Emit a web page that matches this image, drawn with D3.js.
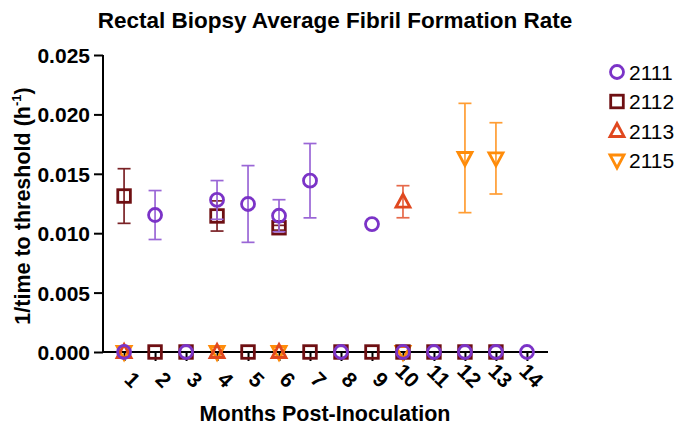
<!DOCTYPE html>
<html><head><meta charset="utf-8">
<script src="https://cdn.jsdelivr.net/npm/d3@7"></script>
<style>body{margin:0;background:#fff}svg{display:block}text{font-family:"Liberation Sans",Arial,sans-serif}</style>
</head><body><svg id="c" width="683" height="430"></svg>
<script>
const months = [1,2,3,4,5,6,7,8,9,10,11,12,13,14];
const yTicks = [0, 0.005, 0.010, 0.015, 0.020, 0.025];
const seriesNames = ["2111","2112","2113","2115"];
// means (null = no point)
const mean2111 = [0, 0.01153, 0, 0.0128, 0.01246, 0.01147, 0.01442, 0, 0.01077, 0, 0, 0, 0, 0];
const sd2111   = [0, 0.00206, 0, 0.00163, 0.00323, 0.00135, 0.00313, 0, 0, 0, 0, 0, 0, 0];
const mean2112 = [0.01313, 0, 0, 0.01145, 0, 0.01046, 0, 0, 0, 0, 0, 0, 0, null];
const sd2112   = [0.0023, 0, 0, 0.00127, 0, 0.0002, 0, 0, 0, 0, 0, 0, 0, null];
const mean2113 = [0, null, null, 0, null, 0, null, null, null, 0.01265, null, null, null, null];
const sd2113   = [0, null, null, 0, null, 0, null, null, null, 0.00135, null, null, null, null];
const mean2115 = [0, null, null, 0, null, 0, null, null, null, 0, null, 0.01633, 0.0163, null];
const sd2115   = [0, null, null, 0, null, 0, null, null, null, 0, null, 0.0046, 0.003, null];

const svg = d3.select("#c");
const x = d3.scalePoint().domain(months).range([103, 548]).padding(0.68);
const y = d3.scaleLinear().domain([0, 0.025]).range([352, 55]);

const series = [
  {name:"2111", mean:mean2111, sd:sd2111, color:"#7b33c7", err:"#9a66d6", sym:"circle"},
  {name:"2112", mean:mean2112, sd:sd2112, color:"#6e0f12", err:"#7a2226", sym:"square"},
  {name:"2113", mean:mean2113, sd:sd2113, color:"#e0481f", err:"#e6694a", sym:"tri"},
  {name:"2115", mean:mean2115, sd:sd2115, color:"#ff8c0a", err:"#ff9d33", sym:"tridown"}
];

function drawSym(g, sym, color, cx, cy){
  if(sym==="circle"){
    g.append("circle").attr("cx",cx).attr("cy",cy).attr("r",6.5).attr("fill","none").attr("stroke",color).attr("stroke-width",2.8);
  } else if(sym==="square"){
    g.append("rect").attr("x",cx-6.3).attr("y",cy-6.3).attr("width",12.6).attr("height",12.6).attr("fill","none").attr("stroke",color).attr("stroke-width",2.8);
  } else if(sym==="tri"){
    g.append("path").attr("d",`M${cx},${cy-7.5} L${cx+7},${cy+5.5} L${cx-7},${cy+5.5} Z`).attr("fill","none").attr("stroke",color).attr("stroke-width",2.8).attr("stroke-linejoin","miter");
  } else {
    g.append("path").attr("d",`M${cx},${cy+7.5} L${cx+7},${cy-5.5} L${cx-7},${cy-5.5} Z`).attr("fill","none").attr("stroke",color).attr("stroke-width",2.8).attr("stroke-linejoin","miter");
  }
}

// title
svg.append("text").attr("x",335).attr("y",28).attr("text-anchor","middle")
  .attr("font-size",22.5).attr("font-weight","bold").text("Rectal Biopsy Average Fibril Formation Rate");

// y axis
const yAxis = d3.axisLeft(y).tickValues(yTicks).tickFormat(d3.format(".3f")).tickSize(9).tickSizeOuter(0);
const gy = svg.append("g").attr("transform","translate(103,0)").call(yAxis);
gy.select(".domain").attr("stroke","#000").attr("stroke-width",2).attr("d","M0,55V352");
gy.selectAll(".tick line").attr("stroke","#000").attr("stroke-width",2);
gy.selectAll(".tick text").attr("font-size",21).attr("font-weight","bold").attr("fill","#000").attr("x",-13).attr("dy","0.36em");

// x axis
const xAxis = d3.axisBottom(x).tickSize(9).tickSizeOuter(0);
const gx = svg.append("g").attr("transform","translate(0,352)").call(xAxis);
gx.select(".domain").attr("stroke","#000").attr("stroke-width",2).attr("d","M103,0H548");
gx.selectAll(".tick line").attr("stroke","#000").attr("stroke-width",2);
gx.selectAll(".tick text").attr("font-size",21).attr("font-weight","bold").attr("fill","#000")
  .attr("text-anchor","end").attr("y",0).attr("dy",0)
  .attr("transform","translate(7,37) rotate(45)");

// axis titles
svg.append("text").attr("x",325).attr("y",421).attr("text-anchor","middle").attr("font-size",21.5).attr("font-weight","bold").text("Months Post-Inoculation");
const yt = svg.append("text").attr("transform","translate(30,206) rotate(-90)").attr("text-anchor","middle").attr("font-size",21.5).attr("font-weight","bold");
yt.append("tspan").text("1/time to threshold (h");
yt.append("tspan").attr("font-size",13).attr("dy",-9).text("-1");
yt.append("tspan").attr("dy",9).text(")");

// data: error bars then markers
const plot = svg.append("g");
const order = [3,2,1,0];
order.forEach(si=>{
  const s = series[si];
  s.mean.forEach((m,i)=>{
    if(m===null) return;
    const cx = x(months[i]);
    const sd = s.sd[i]||0;
    if(sd>0){
      const g = plot.append("g").attr("stroke",s.err).attr("stroke-width",1.7);
      g.append("line").attr("x1",cx).attr("x2",cx).attr("y1",y(m+sd)).attr("y2",y(m-sd));
      g.append("line").attr("x1",cx-6.5).attr("x2",cx+6.5).attr("y1",y(m+sd)).attr("y2",y(m+sd));
      g.append("line").attr("x1",cx-6.5).attr("x2",cx+6.5).attr("y1",y(m-sd)).attr("y2",y(m-sd));
    }
    drawSym(plot, s.sym, s.color, cx, y(m));
  });
});

// legend
series.forEach((s,i)=>{
  const ly = 72 + i*29.5;
  const g = svg.append("g");
  drawSym(g, s.sym, s.color, 617, ly);
  svg.append("text").attr("x",629).attr("y",ly).attr("dy","0.36em").attr("font-size",21).attr("fill","#000").text(s.name);
});
</script></body></html>
